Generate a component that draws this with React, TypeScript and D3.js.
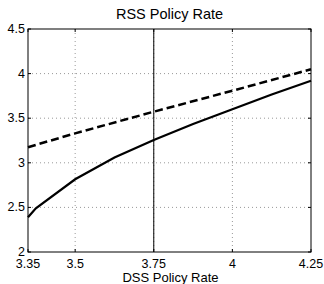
import React from "react";
import * as d3 from "d3";

const xValsSolid = [3.35, 3.375, 3.5, 3.625, 3.75, 3.875, 4.0, 4.125, 4.25];
const solidVals = [2.39, 2.49, 2.815, 3.06, 3.255, 3.435, 3.6, 3.765, 3.92];
const xValsDashed = [3.35, 3.5, 3.75, 4.0, 4.25];
const dashedVals = [3.175, 3.33, 3.573, 3.808, 4.048];
const xTicks = [3.35, 3.5, 3.75, 4, 4.25];
const xTickLabels = ["3.35", "3.5", "3.75", "4", "4.25"];
const yTicks = [2, 2.5, 3, 3.5, 4, 4.5];
const yTickLabels = ["2", "2.5", "3", "3.5", "4", "4.5"];
const refLineX = 3.75;

export default function App() {
  const W = 324, H = 284;
  const L = 28, R = 311, T = 29, B = 252;
  const x = d3.scaleLinear().domain([3.35, 4.25]).range([L, R]);
  const y = d3.scaleLinear().domain([2, 4.5]).range([B, T]);
  const line = d3.line<[number, number]>().x(d => x(d[0])).y(d => y(d[1]));
  const solid = line(xValsSolid.map((v, i) => [v, solidVals[i]] as [number, number]));
  const dashed = line(xValsDashed.map((v, i) => [v, dashedVals[i]] as [number, number]));
  const font = "'Liberation Sans', Arial, Helvetica, sans-serif";
  return (
    <svg width={W} height={H} style={{ position: "absolute", left: 0, top: 0, background: "#fff" }} fontFamily={font}>
      <rect x={0} y={0} width={W} height={H} fill="#fff" />
      {xTicks.slice(1, -1).map((t, i) => (
        <line key={"gx" + i} x1={x(t)} x2={x(t)} y1={T} y2={B} stroke="#999" strokeWidth={1} strokeDasharray="1,3" />
      ))}
      {yTicks.slice(1, -1).map((t, i) => (
        <line key={"gy" + i} x1={L} x2={R} y1={y(t)} y2={y(t)} stroke="#999" strokeWidth={1} strokeDasharray="1,3" />
      ))}
      {xTicks.map((t, i) => (
        <g key={"tx" + i}>
          <line x1={x(t)} x2={x(t)} y1={B} y2={B - 3} stroke="#000" />
          <line x1={x(t)} x2={x(t)} y1={T} y2={T + 3} stroke="#000" />
          <text x={x(t)} y={267.5} textAnchor="middle" fontSize={12.5}>{xTickLabels[i]}</text>
        </g>
      ))}
      {yTicks.map((t, i) => (
        <g key={"ty" + i}>
          <line x1={L} x2={L + 3} y1={y(t)} y2={y(t)} stroke="#000" />
          <line x1={R} x2={R - 3} y1={y(t)} y2={y(t)} stroke="#000" />
          <text x={25} y={y(t) + 4} textAnchor="end" fontSize={12.5}>{yTickLabels[i]}</text>
        </g>
      ))}
      <line x1={x(refLineX)} x2={x(refLineX)} y1={T} y2={B} stroke="#000" strokeWidth={1} />
      <path d={dashed ?? ""} fill="none" stroke="#000" strokeWidth={2.5} strokeDasharray="8,4" />
      <path d={solid ?? ""} fill="none" stroke="#000" strokeWidth={2.2} />
      <rect x={L} y={T} width={R - L} height={B - T} fill="none" stroke="#000" strokeWidth={1} />
      <text x={(L + R) / 2} y={18.5} textAnchor="middle" fontSize={14.5}>RSS Policy Rate</text>
      <text x={(L + R) / 2 + 1} y={281.5} textAnchor="middle" fontSize={13}>DSS Policy Rate</text>
    </svg>
  );
}
